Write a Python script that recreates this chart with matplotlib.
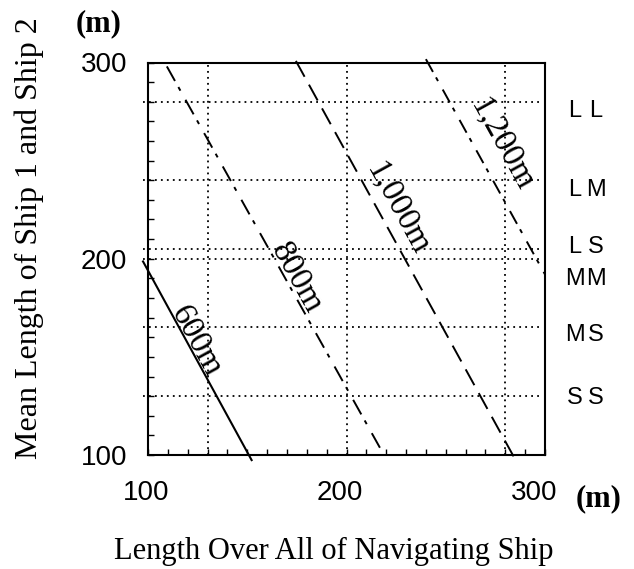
import numpy as np
import matplotlib
matplotlib.use("Agg")
import matplotlib.pyplot as plt
from matplotlib.transforms import ScaledTranslation

plt.rcParams['lines.scale_dashes'] = False

# Iso-distance contours: end points (x = LOA of navigating ship, y = mean length)
contour_labels = ["600m", "800m", "1,000m", "1,200m"]
x_start = [97.5, 109.5, 174.5, 240.0]
y_start = [198.6, 298.0, 300.8, 301.7]
x_end = [152.2, 217.5, 284.6, 300.0]
y_end = [97.4, 102.5, 98.5, 192.0]
# label anchor points (data coords)
label_x = [124.4, 174.8, 225.9, 278.4]
label_y = [157.8, 190.1, 225.8, 258.5]

# ship size class boundaries and class names
grid_x = [130, 200, 280]
grid_y = [280, 240, 205, 200, 165, 130]
class_names = ["LL", "LM", "LS", "MM", "MS", "SS"]
class_y = [275.5, 235.0, 206.0, 189.8, 161.3, 128.8]

ticks = [100, 200, 300]

styles = [
    dict(linestyle='-', linewidth=1.5),
    dict(linestyle=(0, (12.0, 5.0, 3.0, 7.5)), linewidth=1.4),
    dict(linestyle=(0, (13.0, 6.5)), linewidth=1.4),
    dict(linestyle=(0, (10.5, 4.5, 3.0, 7.0)), linewidth=1.4),
]

fig = plt.figure(figsize=(6.34, 5.69), dpi=100)
ax = fig.add_axes([148/634, 1-455/569, 397/634, 392.5/569])
ax.set_xlim(100, 300)
ax.set_ylim(100, 300)

# dotted grid of class boundaries
ax.hlines(grid_y, 97.5, 299.2, colors='black', linestyles=(0, (1.3, 3.0)),
          linewidth=1.3, clip_on=False, zorder=1)
ax.vlines(grid_x, 100, 298.5, colors='black', linestyles=(0, (1.3, 3.0)),
          linewidth=1.3, zorder=1)

for i, lab in enumerate(contour_labels):
    ax.plot([x_start[i], x_end[i]], [y_start[i], y_end[i]], color='black',
            clip_on=False, zorder=3, **styles[i])
    p0 = ax.transData.transform((x_start[i], y_start[i]))
    p1 = ax.transData.transform((x_end[i], y_end[i]))
    ang = np.degrees(np.arctan2(p1[1]-p0[1], p1[0]-p0[0]))
    ax.text(label_x[i], label_y[i], lab, rotation=ang, rotation_mode='anchor',
            ha='center', va='center', family='Liberation Serif', fontsize=24,
            zorder=4)

# axes frame and ticks
for s in ax.spines.values():
    s.set_linewidth(1.5)
ax.set_xticks(ticks)
ax.set_yticks(ticks)
ax.set_xticks(np.arange(100, 301, 10), minor=True)
ax.set_yticks(np.arange(100, 301, 10), minor=True)
ax.tick_params(which='both', direction='in', length=4.3, width=1.0,
               top=False, right=False)
ax.tick_params(axis='x', which='major', pad=18, labelsize=20)
ax.tick_params(axis='y', which='major', pad=15, labelsize=20)
for t in ax.get_xticklabels() + ax.get_yticklabels():
    t.set_family('Liberation Sans')
# x labels sit slightly left of their ticks
for t, dx in zip(ax.get_xticklabels(), [-1.5, -6.5, -11.0]):
    t.set_transform(t.get_transform() + ScaledTranslation(dx/100, 0, fig.dpi_scale_trans))

# class names on the right
for name, yv in zip(class_names, class_y):
    ax.text(1.0756, yv, name[0], transform=ax.get_yaxis_transform(),
            ha='center', va='center', family='Liberation Sans', fontsize=17)
    ax.text(1.1285, yv, name[1], transform=ax.get_yaxis_transform(),
            ha='center', va='center', family='Liberation Sans', fontsize=17)

# axis titles and units
fig.text(334/634, 1-551/569, "Length Over All of Navigating Ship",
         ha='center', va='center', family='Liberation Serif', fontsize=22)
fig.text(29/634, 1-238/569, "Mean Length of Ship 1 and Ship 2", rotation=90,
         ha='center', va='center', family='Liberation Serif', fontsize=23)
fig.text(99/634, 1-24/569, "(m)", ha='center', va='center',
         family='Liberation Serif', fontweight='bold', fontsize=22)
fig.text(599/634, 1-499/569, "(m)", ha='center', va='center',
         family='Liberation Serif', fontweight='bold', fontsize=22)

fig.savefig("out.png", dpi=100)
